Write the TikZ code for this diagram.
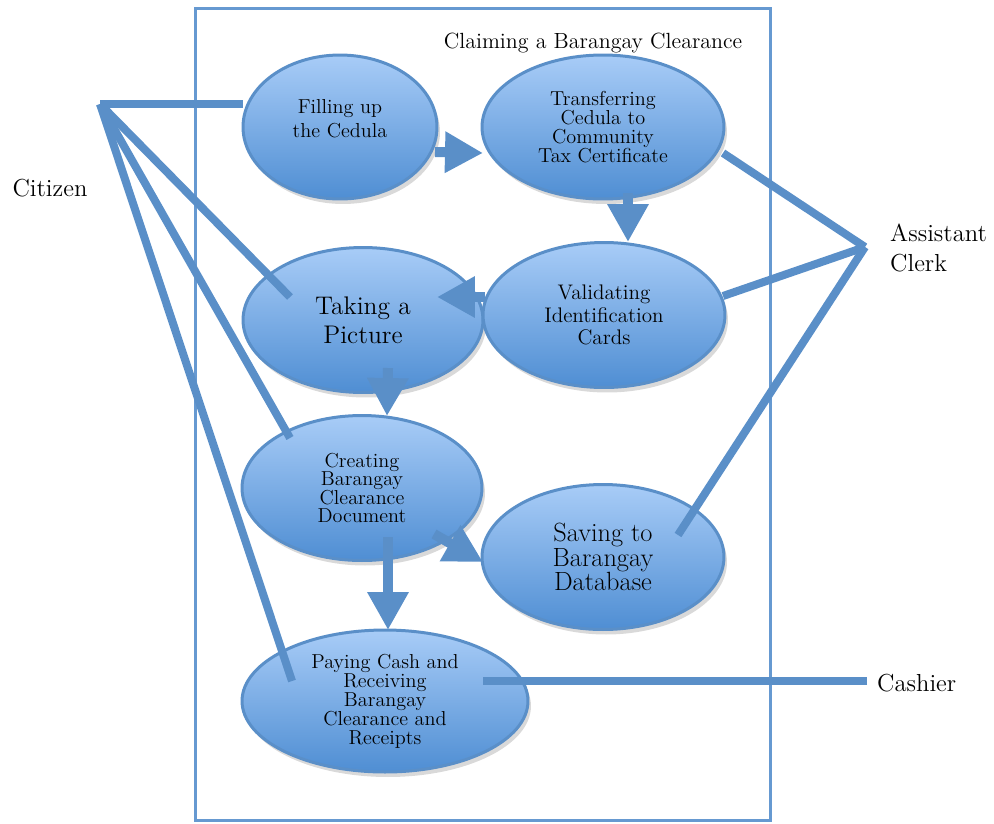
\documentclass[tikz,border=0pt]{standalone}
\usetikzlibrary{shapes.geometric,arrows.meta,positioning,calc,shadows}

\definecolor{ucline}{HTML}{5A8FC8}
\definecolor{uctop}{HTML}{A8CCF7}
\definecolor{ucbot}{HTML}{4F8ED3}
\definecolor{sysline}{HTML}{6699D1}

\tikzset{
  usecase/.style={ellipse, draw=ucline, line width=0.06cm, top color=uctop, bottom color=ucbot,
    inner sep=0pt, align=center, drop shadow={opacity=0.3, shadow xshift=0.06cm, shadow yshift=-0.1cm}},
  actor/.style={font=\fontsize{14}{17}\selectfont, align=left},
  assoc/.style={draw=ucline, line width=0.16cm},
  flow/.style={draw=ucline, line width=0.2cm, -{Triangle[length=0.76cm,width=0.78cm]}},
}

\begin{document}
\begin{tikzpicture}[x=0.02cm,y=-0.02cm]
 \useasboundingbox (0,0) rectangle (994,823);
 \draw[sysline, line width=0.06cm] (195,8) rectangle (770,820);
 \node[font=\fontsize{12.5}{15}\selectfont] (title) at (593,43) {Claiming a Barangay Clearance};

 \node[usecase, minimum width=3.88cm, minimum height=2.88cm, font=\fontsize{11.5}{13.6}\selectfont] (fill) at (340,127) {Filling up\\the Cedula\\[-4pt]};
 \node[usecase, minimum width=4.84cm, minimum height=2.88cm, font=\fontsize{11.5}{10.8}\selectfont] (trans) at (603,127) {Transferring\\Cedula to\\Community\\Tax Certificate};
 \node[usecase, minimum width=4.8cm, minimum height=2.9cm, font=\fontsize{14.5}{16.5}\selectfont] (pic) at (363,320) {Taking a\\Picture};
 \node[usecase, minimum width=4.84cm, minimum height=2.9cm, font=\fontsize{12}{13}\selectfont] (valid) at (604,315) {Validating\\Identification\\Cards};
 \node[usecase, minimum width=4.8cm, minimum height=2.9cm, font=\fontsize{11.5}{10.6}\selectfont] (create) at (362,488) {Creating\\Barangay\\Clearance\\Document};
 \node[usecase, minimum width=4.84cm, minimum height=2.9cm, font=\fontsize{15}{14}\selectfont] (save) at (603,557) {Saving to\\Barangay\\Database};
 \node[usecase, minimum width=5.72cm, minimum height=2.84cm, font=\fontsize{11.5}{10.8}\selectfont] (pay) at (385,701) {Paying Cash and\\Receiving\\Barangay\\Clearance and\\Receipts};

 \node[actor] (citizen) at (50,188) {Citizen};
 \node[actor, anchor=west] (clerk) at (884,248) {Assistant\\Clerk};
 \node[actor, anchor=west] (cashier) at (871,683) {Cashier};

 \coordinate (citz) at (100,104);
 \coordinate (clk) at (865,247);
 \coordinate (csh) at (867,681);

 \draw[flow] ($(fill.center)+(95,25)$) -- ($(trans.center)+(-120,26)$);
 \draw[flow] ($(trans.center)+(25,66)$) -- ($(valid.center)+(24,-73)$);
 \draw[flow] ($(valid.center)+(-119,-18)$) -- ($(pic.center)+(74,-23)$);
 \draw[flow] ($(pic.center)+(25,48)$) -- ($(create.center)+(25,-72)$);
 \draw[flow] ($(create.center)+(72,46)$) -- ($(save.center)+(-120,5)$);
 \draw[flow] ($(create.center)+(26,49)$) -- ($(pay.center)+(3,-71)$);

 \draw[assoc] (citz) -- ($(fill.center)+(-97,-23)$);
 \draw[assoc] (citz) -- ($(pic.center)+(-73,-23)$);
 \draw[assoc] (citz) -- ($(create.center)+(-72,-50)$);
 \draw[assoc] (citz) -- ($(pay.center)+(-93,-20)$);
 \draw[assoc] (clk) -- ($(trans.center)+(120,26)$);
 \draw[assoc] (clk) -- ($(valid.center)+(119,-19)$);
 \draw[assoc] (clk) -- ($(save.center)+(75,-22)$);
 \draw[assoc] (csh) -- ($(pay.center)+(98,-20)$);
\end{tikzpicture}
\end{document}
